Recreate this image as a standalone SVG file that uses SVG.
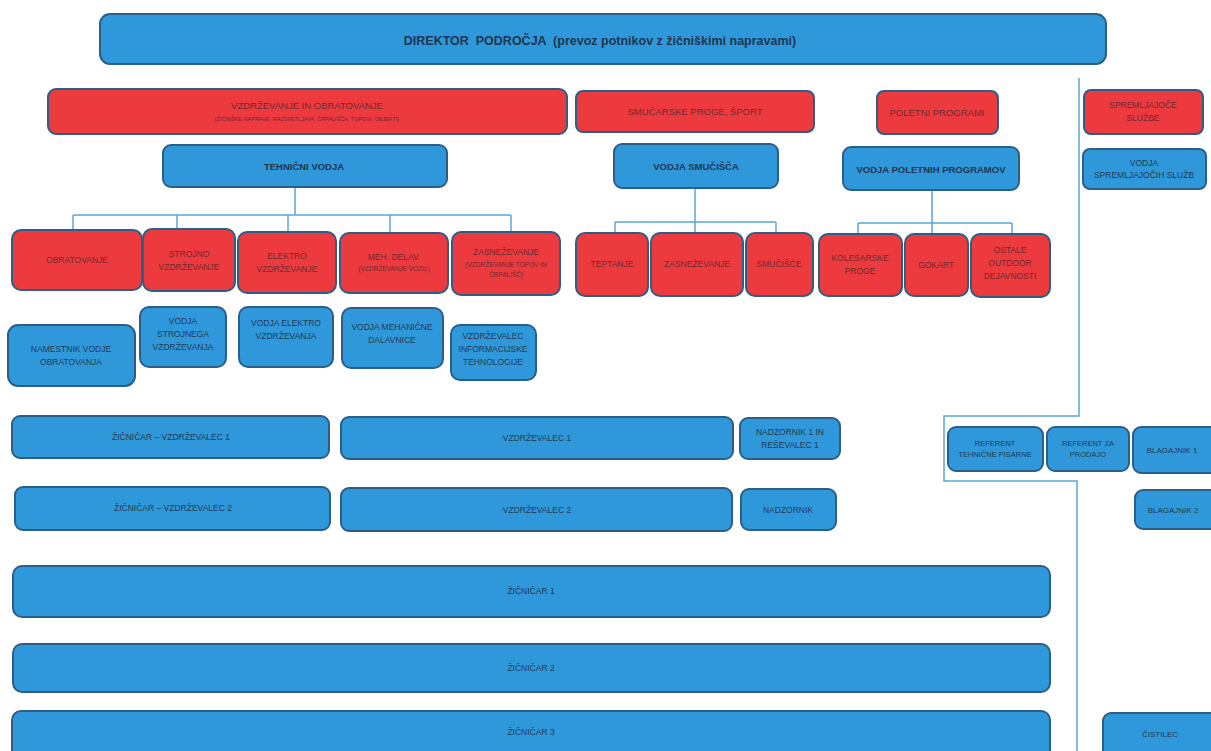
<svg xmlns="http://www.w3.org/2000/svg" width="1211" height="751" viewBox="0 0 1211 751">
<style>
.b{fill:#2f98da;stroke:#2b5f87;stroke-width:2}
.r{fill:#ec3a3e;stroke:#2b5f87;stroke-width:2}
text{font-family:"Liberation Sans",Arial,sans-serif;text-anchor:middle}
.t{fill:#233a52;font-size:8.5px}
.tr{fill:#6e2a30;font-size:8.5px}
.ts{fill:#6e2a30;font-size:5.5px}
.tb{fill:#1f3550;font-size:9.5px;font-weight:bold}
.ln{fill:none;stroke:#5aa6d6;stroke-width:1.5}
</style>
<rect width="1211" height="751" fill="#ffffff"/>
<g id="connectors">
<path class="ln" d="M295,187 V215 M73,215 H511 M73,215 V231 M177,215 V230 M288,215 V233 M390,215 V234 M511,215 V233"/>
<path class="ln" d="M695,188 V222 M615,222 H776 M615,222 V234 M695,222 V234 M776,222 V234"/>
<path class="ln" d="M932,190 V223 M858,223 H1012 M858,223 V235 M932,223 V235 M1012,223 V235"/>
<path class="ln" d="M1079,78 V416 H944 V481 H1077 V751"/>
</g>
<g id="direktor"><rect class="b" x="100" y="14" width="1006" height="50" rx="10"/><text class="tb" x="600" y="45" style="font-size:12.5px;white-space:pre">DIREKTOR  PODROČJA  (prevoz potnikov z žičniškimi napravami)</text></g>
<g id="vzdrzevanje"><rect class="r" x="48" y="89" width="519" height="45" rx="8"/><text class="tr" x="307" y="109" style="font-size:9.5px">VZDRŽEVANJE IN OBRATOVANJE</text><text class="ts" x="307" y="121">(ŽIČNIŠKE NAPRAVE, RAZSVETLJAVA, ČRPALIŠČA, TOPOVI, OBJEKTI)</text></g>
<g id="smucarske"><rect class="r" x="576" y="91" width="238" height="41" rx="7"/><text class="tr" x="695" y="115" style="font-size:9.5px">SMUČARSKE PROGE, ŠPORT</text></g>
<g id="poletni"><rect class="r" x="877" y="91" width="121" height="43" rx="7"/><text class="tr" x="937" y="116" style="font-size:9.5px">POLETNI PROGRAMI</text></g>
<g id="spremljajoce"><rect class="r" x="1084" y="90" width="119" height="44" rx="7"/><text class="tr" x="1143" y="108">SPREMLJAJOČE</text><text class="tr" x="1143" y="121">SLUŽBE</text></g>
<g id="tehnicni"><rect class="b" x="163" y="145" width="284" height="42" rx="8"/><text class="tb" x="304" y="170">TEHNIČNI VODJA</text></g>
<g id="vodja-smucisca"><rect class="b" x="614" y="144" width="164" height="44" rx="8"/><text class="tb" x="696" y="170">VODJA SMUČIŠČA</text></g>
<g id="vodja-poletnih"><rect class="b" x="843" y="147" width="176" height="43" rx="8"/><text class="tb" x="931" y="173">VODJA POLETNIH PROGRAMOV</text></g>
<g id="vodja-spremljajocih"><rect class="b" x="1083" y="149" width="123" height="40" rx="7"/><text class="t" x="1144" y="166">VODJA</text><text class="t" x="1144" y="178">SPREMLJAJOČIH SLUŽB</text></g>
<g id="obratovanje"><rect class="r" x="12" y="230" width="130" height="60" rx="9"/><text class="tr" x="77" y="263">OBRATOVANJE</text></g>
<g id="strojno"><rect class="r" x="143" y="229" width="92" height="62" rx="9"/><text class="tr" x="189" y="257">STROJNO</text><text class="tr" x="189" y="270">VZDRŽEVANJE</text></g>
<g id="elektro"><rect class="r" x="238" y="232" width="98" height="61" rx="9"/><text class="tr" x="287" y="259">ELEKTRO</text><text class="tr" x="287" y="272">VZDRŽEVANJE</text></g>
<g id="meh-delav"><rect class="r" x="340" y="233" width="108" height="60" rx="9"/><text class="tr" x="394" y="260">MEH. DELAV.</text><text class="ts" x="394" y="271" style="font-size:6.5px">(VZDRŽEVANJE VOZIL)</text></g>
<g id="zasnezevanje1"><rect class="r" x="452" y="232" width="108" height="63" rx="9"/><text class="tr" x="506" y="255">ZASNEŽEVANJE</text><text class="ts" x="506" y="267" style="font-size:6.5px">(VZDRŽEVANJE TOPOV IN</text><text class="ts" x="506" y="277" style="font-size:6.5px">ČRPALIŠČ)</text></g>
<g id="teptanje"><rect class="r" x="576" y="233" width="72" height="63" rx="9"/><text class="tr" x="612" y="267">TEPTANJE</text></g>
<g id="zasnezevanje2"><rect class="r" x="651" y="233" width="92" height="63" rx="9"/><text class="tr" x="697" y="267">ZASNEŽEVANJE</text></g>
<g id="smucisce"><rect class="r" x="746" y="233" width="67" height="63" rx="9"/><text class="tr" x="779" y="267">SMUČIŠČE</text></g>
<g id="kolesarske"><rect class="r" x="819" y="234" width="83" height="62" rx="9"/><text class="tr" x="860" y="261">KOLESARSKE</text><text class="tr" x="860" y="274">PROGE</text></g>
<g id="gokart"><rect class="r" x="905" y="234" width="63" height="62" rx="9"/><text class="tr" x="936" y="268">GOKART</text></g>
<g id="ostale"><rect class="r" x="971" y="234" width="79" height="63" rx="9"/><text class="tr" x="1010" y="253">OSTALE</text><text class="tr" x="1010" y="266">OUTDOOR</text><text class="tr" x="1010" y="279">DEJAVNOSTI</text></g>
<g id="namestnik"><rect class="b" x="8" y="325" width="127" height="61" rx="10"/><text class="t" x="71" y="352">NAMESTNIK VODJE</text><text class="t" x="71" y="365">OBRATOVANJA</text></g>
<g id="vodja-strojnega"><rect class="b" x="140" y="307" width="86" height="60" rx="9"/><text class="t" x="183" y="324">VODJA</text><text class="t" x="183" y="337">STROJNEGA</text><text class="t" x="183" y="350">VZDRŽEVANJA</text></g>
<g id="vodja-elektro"><rect class="b" x="239" y="307" width="94" height="60" rx="9"/><text class="t" x="286" y="326">VODJA ELEKTRO</text><text class="t" x="286" y="339">VZDRŽEVANJA</text></g>
<g id="vodja-mehanicne"><rect class="b" x="342" y="308" width="101" height="60" rx="9"/><text class="t" x="392" y="330">VODJA MEHANIČNE</text><text class="t" x="392" y="343">DALAVNICE</text></g>
<g id="vzdrzevalec-it"><rect class="b" x="451" y="325" width="85" height="55" rx="9"/><text class="t" x="493" y="339">VZDRŽEVALEC</text><text class="t" x="493" y="352">INFORMACIJSKE</text><text class="t" x="493" y="365">TEHNOLOGIJE</text></g>
<g id="zicnicar-vzdrzevalec1"><rect class="b" x="12" y="416" width="317" height="42" rx="8"/><text class="t" x="171" y="440">ŽIČNIČAR – VZDRŽEVALEC 1</text></g>
<g id="vzdrzevalec1"><rect class="b" x="341" y="417" width="392" height="42" rx="8"/><text class="t" x="537" y="441">VZDRŽEVALEC 1</text></g>
<g id="nadzornik1"><rect class="b" x="740" y="418" width="100" height="41" rx="8"/><text class="t" x="790" y="435">NADZORNIK 1 IN</text><text class="t" x="790" y="448">REŠEVALEC 1</text></g>
<g id="referent-tehnicne"><rect class="b" x="948" y="427" width="95" height="44" rx="8"/><text class="t" x="995" y="446" style="font-size:7.5px">REFERENT</text><text class="t" x="995" y="457" style="font-size:7.5px">TEHNIČNE PISARNE</text></g>
<g id="referent-prodajo"><rect class="b" x="1047" y="427" width="82" height="44" rx="8"/><text class="t" x="1088" y="446" style="font-size:7.5px">REFERENT ZA</text><text class="t" x="1088" y="457" style="font-size:7.5px">PRODAJO</text></g>
<g id="blagajnik1"><rect class="b" x="1133" y="427" width="86" height="46" rx="8"/><text class="t" x="1172" y="453" style="font-size:8px">BLAGAJNIK 1</text></g>
<g id="zicnicar-vzdrzevalec2"><rect class="b" x="15" y="487" width="315" height="43" rx="8"/><text class="t" x="173" y="511">ŽIČNIČAR – VZDRŽEVALEC 2</text></g>
<g id="vzdrzevalec2"><rect class="b" x="341" y="488" width="391" height="43" rx="8"/><text class="t" x="537" y="513">VZDRŽEVALEC 2</text></g>
<g id="nadzornik"><rect class="b" x="741" y="489" width="95" height="41" rx="8"/><text class="t" x="788" y="513">NADZORNIK</text></g>
<g id="blagajnik2"><rect class="b" x="1135" y="490" width="84" height="39" rx="8"/><text class="t" x="1173" y="513" style="font-size:8px">BLAGAJNIK 2</text></g>
<g id="zicnicar1"><rect class="b" x="13" y="566" width="1037" height="51" rx="9"/><text class="t" x="531" y="594">ŽIČNIČAR 1</text></g>
<g id="zicnicar2"><rect class="b" x="13" y="644" width="1037" height="48" rx="9"/><text class="t" x="531" y="671">ŽIČNIČAR 2</text></g>
<g id="zicnicar3"><rect class="b" x="12" y="711" width="1038" height="50" rx="9"/><text class="t" x="531" y="735">ŽIČNIČAR 3</text></g>
<g id="cistilec"><rect class="b" x="1103" y="713" width="116" height="48" rx="8"/><text class="t" x="1160" y="737" style="font-size:8px">ČISTILEC</text></g>
</svg>
